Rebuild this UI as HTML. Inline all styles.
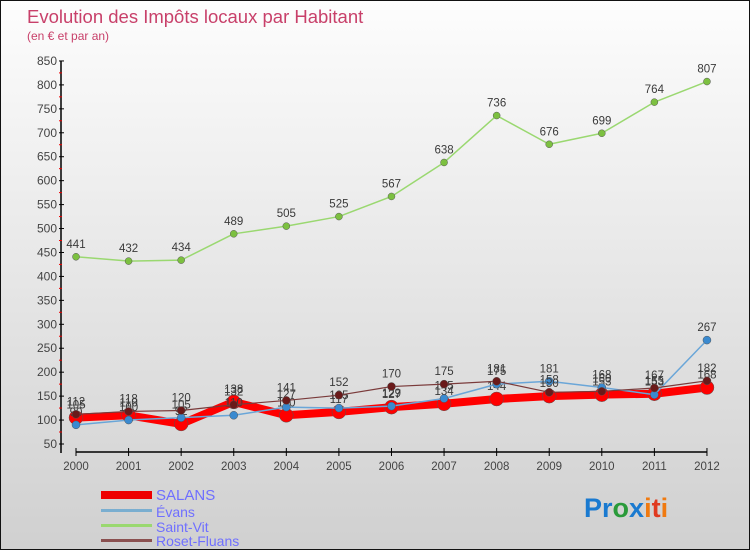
<!DOCTYPE html>
<html><head><meta charset="utf-8"><style>
body{margin:0}
#c{width:750px;height:550px;position:relative;overflow:hidden;background:linear-gradient(#fdfdfd,#d0d0d0);border:1px solid #111;box-sizing:border-box;font-family:"Liberation Sans",sans-serif}
text{font-family:"Liberation Sans",sans-serif}
</style></head><body>
<div id="c">
<svg id="s" width="750" height="550">
<text x="26" y="22" font-size="18.5" fill="#c8406a">Evolution des Impôts locaux par Habitant</text>
<text x="26" y="39" font-size="12" fill="#c8406a">(en € et par an)</text>
<g id="ax"></g>
<g id="ser"></g>
<g>
<rect x="100" y="490" width="51" height="8" fill="#e00"/>
<text x="155" y="499" font-size="15" fill="#6f6fff">SALANS</text>
<rect x="100" y="508" width="51" height="3" fill="#7aaed0"/>
<text x="155" y="516" font-size="14" fill="#6f6fff">Évans</text>
<rect x="100" y="523" width="51" height="3" fill="#9ad870"/>
<text x="155" y="531" font-size="14" fill="#6f6fff">Saint-Vit</text>
<rect x="100" y="538" width="51" height="3" fill="#8a5050"/>
<text x="155" y="545" font-size="14" fill="#6f6fff">Roset-Fluans</text>
</g>
<g font-size="27" font-weight="bold">
<text x="583" y="516"><tspan fill="#1a7ad0">Pr</tspan><tspan fill="#2a9a3a">o</tspan><tspan fill="#1a7ad0">x</tspan><tspan fill="#f07a10">i</tspan><tspan fill="#e03a20">t</tspan><tspan fill="#f07a10">i</tspan></text>
</g>
</svg>
</div>
<script>
const years=[2000,2001,2002,2003,2004,2005,2006,2007,2008,2009,2010,2011,2012];
const salans=[105,110,92,138,110,117,127,134,144,150,153,155,168];
const evans=[90,100,105,110,127,125,129,145,175,181,168,153,267];
const saintVit=[441,432,434,489,505,525,567,638,736,676,699,764,807];
const roset=[112,118,120,132,141,152,170,175,181,158,160,167,182];
const yTicks=[50,100,150,200,250,300,350,400,450,500,550,600,650,700,750,800,850];
const NS="http://www.w3.org/2000/svg";
const X=i=>75+i*52.58;
const Y=v=>443-(v-50)*0.4788;
function mk(t,a,p){const e=document.createElementNS(NS,t);for(const k in a)e.setAttribute(k,a[k]);p.appendChild(e);return e;}
const ax=document.getElementById('ax'),ser=document.getElementById('ser');
let l=mk('line',{x1:60,y1:60,x2:60,y2:452,stroke:'#000','stroke-width':1.5},ax);


l=mk('line',{x1:75,y1:451,x2:706,y2:451,stroke:'#000','stroke-width':1.5},ax);


yTicks.forEach(v=>{
 const y=Y(v);
 mk('line',{x1:58,y1:y,x2:63,y2:y,stroke:'#000'},ax);
 if(v<850)mk('line',{x1:58,y1:y-12,x2:61,y2:y-12,stroke:'#e00'},ax);
 const t=mk('text',{x:56,y:y+4,'font-size':12,fill:'#444','text-anchor':'end'},ax);
 t.textContent=v;
 
 
});
years.forEach((yr,i)=>{
 mk('line',{x1:X(i),y1:447,x2:X(i),y2:455,stroke:'#000'},ax);
 const t=mk('text',{x:X(i),y:469,'font-size':11.5,fill:'#444','text-anchor':'middle'},ax);
 t.textContent=yr;
 
 
});
function series(d,name,color,w,r,dot){
 const g=mk('g',{},ser);
 
 
 const p=mk('polyline',{points:d.map((v,i)=>X(i)+','+Y(v)).join(' '),fill:'none',stroke:color,'stroke-width':w,'stroke-linejoin':'round'},g);
 
 
 d.forEach((v,i)=>{
  const c=mk('circle',{cx:X(i),cy:Y(v),r:r,fill:dot,stroke:'#555','stroke-width':0.5},g);
  
  
  const t=mk('text',{x:X(i),y:Y(v)-9,'font-size':11.5,fill:'#3a3a3a','text-anchor':'middle'},g);
  t.textContent=v;
  
  
 });
}
series(saintVit,'saint-vit','#9ad870',1.5,3.5,'#7cc040');
series(salans,'salans','#f00',8,7,'#f00');
series(evans,'evans','#6aa6d8',1.5,4,'#3a8ad0');
series(roset,'roset-fluans','#7a3a3a',1.2,4,'#6a1a1a');
</script>
</body></html>
